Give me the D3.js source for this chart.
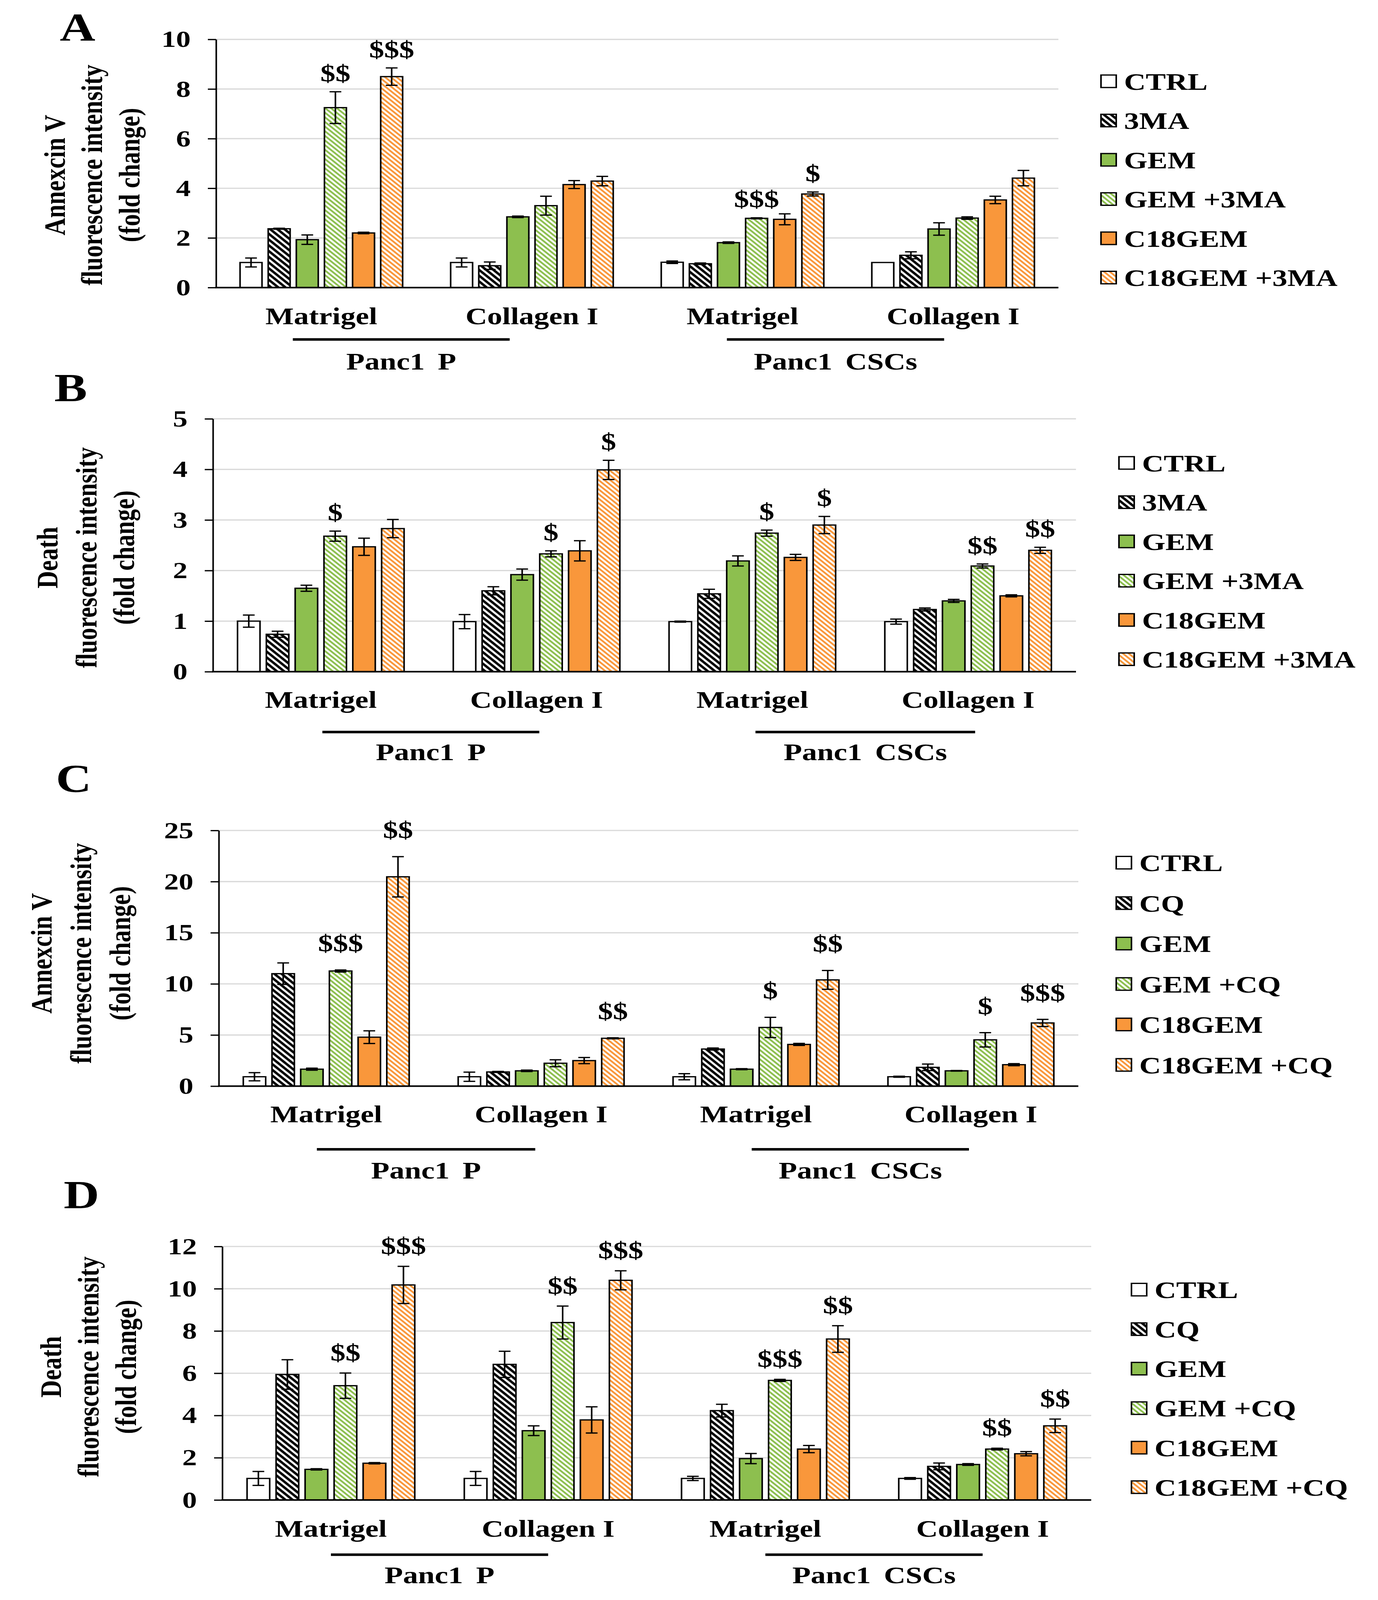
<!DOCTYPE html>
<html><head><meta charset="utf-8">
<script src="https://cdn.jsdelivr.net/npm/d3@7/dist/d3.min.js"></script>
<style>html,body{margin:0;padding:0;background:#fff;overflow:hidden;} svg{display:block;}</style>
</head><body>
<script>
// ---------- DATA ----------
const groups = ["Matrigel", "Collagen I", "Matrigel", "Collagen I"];
const cellLines = ["Panc1 P", "Panc1 CSCs"];
const seriesMA = ["CTRL", "3MA", "GEM", "GEM +3MA", "C18GEM", "C18GEM +3MA"];
const seriesCQ = ["CTRL", "CQ", "GEM", "GEM +CQ", "C18GEM", "C18GEM +CQ"];

const ticksA = [0, 2, 4, 6, 8, 10];
const ticksB = [0, 1, 2, 3, 4, 5];
const ticksC = [0, 5, 10, 15, 20, 25];
const ticksD = [0, 2, 4, 6, 8, 10, 12];

// rows = groups, columns = series
const valA = [
  [1.01, 2.37, 1.93, 7.25, 2.20, 8.50],
  [1.01, 0.88, 2.85, 3.30, 4.15, 4.29],
  [1.02, 0.96, 1.81, 2.79, 2.75, 3.77],
  [1.01, 1.30, 2.36, 2.80, 3.53, 4.41]];
const errA = [
  [0.18, 0.02, 0.19, 0.64, 0.03, 0.35],
  [0.18, 0.15, 0.03, 0.38, 0.16, 0.19],
  [0.05, 0.03, 0.03, 0.02, 0.22, 0.08],
  [0.00, 0.14, 0.25, 0.05, 0.15, 0.31]];
const valB = [
  [1.00, 0.74, 1.65, 2.68, 2.47, 2.83],
  [0.99, 1.60, 1.92, 2.33, 2.39, 3.99],
  [0.99, 1.54, 2.19, 2.74, 2.26, 2.90],
  [0.99, 1.23, 1.40, 2.09, 1.50, 2.40]];
const errB = [
  [0.12, 0.06, 0.06, 0.10, 0.17, 0.18],
  [0.14, 0.08, 0.11, 0.06, 0.20, 0.19],
  [0.01, 0.09, 0.10, 0.06, 0.06, 0.17],
  [0.05, 0.03, 0.03, 0.04, 0.02, 0.06]];
const valC = [
  [0.92, 11.00, 1.66, 11.26, 4.79, 20.47],
  [0.92, 1.39, 1.50, 2.24, 2.50, 4.68],
  [0.92, 3.63, 1.66, 5.74, 4.08, 10.39],
  [0.92, 1.84, 1.50, 4.53, 2.10, 6.18]];
const errC = [
  [0.40, 1.05, 0.10, 0.10, 0.62, 1.97],
  [0.45, 0.05, 0.07, 0.34, 0.30, 0.05],
  [0.30, 0.10, 0.05, 0.99, 0.10, 0.92],
  [0.05, 0.32, 0.03, 0.70, 0.10, 0.35]];
const valD = [
  [1.02, 5.94, 1.45, 5.41, 1.74, 10.18],
  [1.02, 6.42, 3.28, 8.40, 3.79, 10.40],
  [1.02, 4.23, 1.96, 5.66, 2.41, 7.62],
  [1.02, 1.59, 1.68, 2.41, 2.19, 3.51]];
const errD = [
  [0.33, 0.70, 0.03, 0.60, 0.03, 0.88],
  [0.33, 0.62, 0.23, 0.78, 0.62, 0.45],
  [0.10, 0.30, 0.24, 0.05, 0.17, 0.63],
  [0.04, 0.16, 0.04, 0.04, 0.10, 0.32]];

// significance marks: [group, series, text]
const sigA = [[0, 3, "$$"], [0, 5, "$$$"], [2, 3, "$$$"], [2, 5, "$"]];
const sigB = [[0, 3, "$"], [1, 3, "$"], [1, 5, "$"], [2, 3, "$"], [2, 5, "$"], [3, 3, "$$"], [3, 5, "$$"]];
const sigC = [[0, 3, "$$$"], [0, 5, "$$"], [1, 5, "$$"], [2, 3, "$"], [2, 5, "$$"], [3, 3, "$"], [3, 5, "$$$"]];
const sigD = [[0, 3, "$$"], [0, 5, "$$$"], [1, 3, "$$"], [1, 5, "$$$"], [2, 3, "$$$"], [2, 5, "$$"], [3, 3, "$$"], [3, 5, "$$"]];

const titleAnnex = ["Annexcin V", "fluorescence intensity", "(fold change)"];
const titleDeath = ["Death", "fluorescence intensity", "(fold change)"];

// ---------- STYLE / LAYOUT ----------
const W = 3527, H = 5119;
const FONT = "'Liberation Serif','Times New Roman',serif";
const GREEN = "#8DBF4F", ORANGE = "#F9973B";
const fills = ["#ffffff", "url(#hBlack)", GREEN, "url(#hGreen)", ORANGE, "url(#hOrange)"];

const panels = [
  {letter: "A", series: seriesMA, vals: valA, errs: errA, sig: sigA, ticks: ticksA, title: titleAnnex,
   x0: 553, x1: 2709, y0: 920, yTop: 126, titleX: [139, 234, 330], titleCY: 560, letterXY: [153, 130],
   legX: 2818, legY: 260, legDy: 125.6, catY: 1037, lineY: 1086, lines: [[0, -73, 1, -57], [2, -40, 3, -23]], cellY: 1182, sigGap: 34},
  {letter: "B", series: seriesMA, vals: valB, errs: errB, sig: sigB, ticks: ticksB, title: titleDeath,
   x0: 545, x1: 2754, y0: 2149, yTop: 1340, titleX: [120, 220, 316], titleCY: 1784, letterXY: [139, 1284],
   legX: 2864, legY: 1481, legDy: 125.6, catY: 2264, lineY: 2342, lines: [[0, 4, 1, 7], [2, 8, 3, 18]], cellY: 2432, sigGap: 34},
  {letter: "C", series: seriesCQ, vals: valC, errs: errC, sig: sigC, ticks: ticksC, title: titleAnnex,
   x0: 560, x1: 2760, y0: 3475, yTop: 2657, titleX: [105, 206, 306], titleCY: 3050, letterXY: [143, 2535],
   legX: 2857, legY: 2760, legDy: 129.4, catY: 3591, lineY: 3677, lines: [[0, -24, 1, -15], [2, -11, 3, -5]], cellY: 3770, sigGap: 60},
  {letter: "D", series: seriesCQ, vals: valD, errs: errD, sig: sigD, ticks: ticksD, title: titleDeath,
   x0: 569, x1: 2793, y0: 4799, yTop: 3988, titleX: [129, 225, 321], titleCY: 4373, letterXY: [163, 3865],
   legX: 2896, legY: 4126, legDy: 126.4, catY: 4916, lineY: 4974, lines: [[0, 0, 1, 0], [2, 0, 3, 0]], cellY: 5065, sigGap: 40}
];

// the drawing keeps the reference's 3527x5119 frame and is fitted to the viewport
const vw = window.innerWidth || W, vh = window.innerHeight || H;
const svg = d3.select("body").append("svg")
  .attr("width", vw).attr("height", vh).attr("viewBox", `0 0 ${W} ${H}`)
  .attr("preserveAspectRatio", "none")
  .style("font-family", FONT).style("font-weight", "bold");
svg.append("rect").attr("width", W).attr("height", H).attr("fill", "#fff");

// hatch patterns ("\\" direction)
const defs = svg.append("defs");
function hatch(id, bg, fg, period, w) {
  const p = defs.append("pattern").attr("id", id).attr("patternUnits", "userSpaceOnUse")
    .attr("width", period).attr("height", period).attr("patternTransform", "rotate(45)");
  p.append("rect").attr("width", period).attr("height", period).attr("fill", bg);
  p.append("rect").attr("width", period).attr("height", w).attr("fill", fg);
}
hatch("hBlack", "#ffffff", "#000000", 13, 7);
hatch("hGreen", "#ffffff", GREEN, 10.5, 5.2);
hatch("hOrange", "#ffffff", ORANGE, 10.5, 5.2);

panels.forEach(P => {
  const g = svg.append("g");
  const ymax = d3.max(P.ticks);
  const y = d3.scaleLinear().domain([0, ymax]).range([P.y0, P.yTop]);
  const xg = d3.scaleBand().domain(d3.range(groups.length)).range([P.x0, P.x1]).paddingInner(0).paddingOuter(0);
  const bw = xg.bandwidth();
  const xs = d3.scaleBand().domain(d3.range(P.series.length))
    .range([bw / 2 - 0.386 * bw, bw / 2 + 0.386 * bw]).paddingInner(0.22).paddingOuter(0);

  // gridlines
  g.append("g").selectAll("line").data(P.ticks.filter(t => t > 0)).join("line")
    .attr("x1", P.x0).attr("x2", P.x1).attr("y1", d => y(d)).attr("y2", d => y(d))
    .attr("stroke", "#d9d9d9").attr("stroke-width", 4);

  // y axis
  const ax = g.append("g").attr("transform", `translate(${P.x0},0)`)
    .call(d3.axisLeft(y).tickValues(P.ticks).tickSize(21).tickSizeOuter(0).tickPadding(44).tickFormat(d3.format("d")));
  ax.select(".domain").attr("stroke", "#000").attr("stroke-width", 4);
  ax.selectAll(".tick line").attr("stroke", "#000").attr("stroke-width", 4);
  ax.selectAll(".tick text").attr("fill", "#000").style("font-size", "75px")
    .style("font-family", FONT).style("font-weight", "bold");

  // bars
  const bars = [];
  P.vals.forEach((row, gi) => row.forEach((v, si) => bars.push({gi, si, v, e: P.errs[gi][si]})));
  g.append("g").selectAll("rect").data(bars).join("rect")
    .attr("x", d => xg(d.gi) + xs(d.si)).attr("width", xs.bandwidth())
    .attr("y", d => y(d.v)).attr("height", d => y(0) - y(d.v))
    .attr("fill", d => fills[d.si]).attr("stroke", "#000").attr("stroke-width", 4);

  // x axis baseline
  g.append("line").attr("x1", P.x0 - 2).attr("x2", P.x1).attr("y1", y(0)).attr("y2", y(0))
    .attr("stroke", "#000").attr("stroke-width", 5);

  // error bars
  const eg = g.append("g").attr("stroke", "#000").attr("stroke-width", 4);
  const cx = d => xg(d.gi) + xs(d.si) + xs.bandwidth() / 2;
  const withErr = bars.filter(d => d.e > 0);
  eg.selectAll("line.v").data(withErr).join("line").attr("class", "v")
    .attr("x1", cx).attr("x2", cx).attr("y1", d => y(d.v - d.e)).attr("y2", d => y(d.v + d.e));
  eg.selectAll("line.t").data(withErr).join("line").attr("class", "t")
    .attr("x1", d => cx(d) - 15).attr("x2", d => cx(d) + 15).attr("y1", d => y(d.v + d.e)).attr("y2", d => y(d.v + d.e));
  eg.selectAll("line.b").data(withErr).join("line").attr("class", "b")
    .attr("x1", d => cx(d) - 15).attr("x2", d => cx(d) + 15).attr("y1", d => y(d.v - d.e)).attr("y2", d => y(d.v - d.e));

  // significance marks
  g.append("g").selectAll("text").data(P.sig).join("text")
    .attr("x", d => xg(d[0]) + xs(d[1]) + xs.bandwidth() / 2)
    .attr("y", d => y(P.vals[d[0]][d[1]] + P.errs[d[0]][d[1]]) - P.sigGap)
    .attr("text-anchor", "middle").style("font-size", "77px").text(d => d[2]);

  // category labels
  g.append("g").selectAll("text").data(groups).join("text")
    .attr("x", (d, i) => xg(i) + bw / 2).attr("y", P.catY)
    .attr("text-anchor", "middle").style("font-size", "77px").text(d => d);

  // cell line underlines + labels
  P.lines.forEach((L, k) => {
    const xa = xg(L[0]) + bw / 2 + L[1], xb = xg(L[2]) + bw / 2 + L[3];
    g.append("line").attr("x1", xa).attr("x2", xb).attr("y1", P.lineY).attr("y2", P.lineY)
      .attr("stroke", "#000").attr("stroke-width", 8);
    g.append("text").attr("x", (xa + xb) / 2).attr("y", P.cellY).attr("text-anchor", "middle")
      .style("font-size", "77px").style("word-spacing", "14px").text(cellLines[k]);
  });

  // y title
  P.title.forEach((t, i) => {
    g.append("text").attr("transform", `translate(${P.titleX[i]},${P.titleCY}) rotate(-90)`)
      .attr("text-anchor", "middle").attr("dy", "0.35em").style("font-size", "77px").text(t);
  });

  // panel letter
  g.append("text").attr("x", P.letterXY[0]).attr("y", P.letterXY[1]).style("font-size", "126px").text(P.letter);

  // legend
  const lg = g.append("g");
  P.series.forEach((s, i) => {
    const cy = P.legY + i * P.legDy;
    lg.append("rect").attr("x", P.legX).attr("y", cy - 20).attr("width", 39).attr("height", 40)
      .attr("fill", fills[i]).attr("stroke", "#000").attr("stroke-width", 4);
    lg.append("text").attr("x", P.legX + 59).attr("y", cy).attr("dy", "0.35em")
      .style("font-size", "77px").text(s);
  });
});
</script>
</body></html>
